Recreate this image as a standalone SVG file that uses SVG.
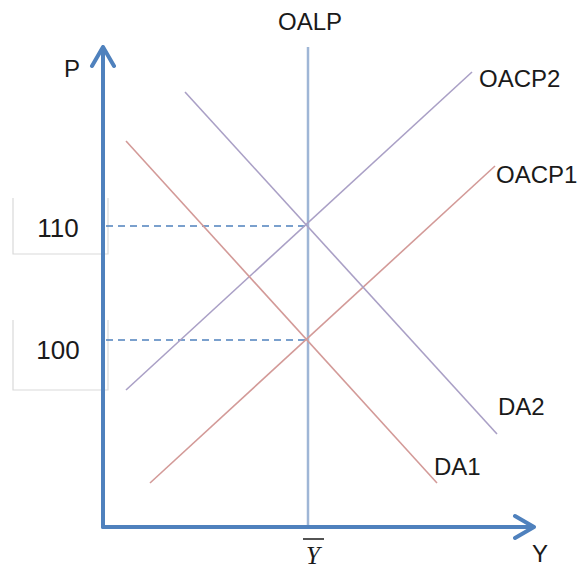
<svg xmlns="http://www.w3.org/2000/svg" width="583" height="571" viewBox="0 0 583 571">
<style>
.lbl{font-family:"Liberation Sans",Arial,sans-serif;font-size:24px;fill:#1a1a1a}
.num{font-family:"Liberation Sans",Arial,sans-serif;font-size:26px;fill:#1a1a1a}
.box{stroke:#d9d9d9;stroke-width:1.2;fill:none}
.axis{stroke:#4f81bd;stroke-width:4;fill:none;stroke-linecap:round;stroke-linejoin:round}
.red{stroke:#d39a98;stroke-width:1.6}
.vio{stroke:#aaa0c6;stroke-width:1.6}
.dash{stroke:#4f81bd;stroke-width:1.6;stroke-dasharray:7,5}
</style>
<rect width="583" height="571" fill="#fff"/>
<g id="box110">
<path class="box" d="M13,198 V254 H108 V198"/>
<text class="num" x="58" y="237" text-anchor="middle">110</text>
</g>
<g id="box100">
<path class="box" d="M13,320 V390 H108 V320"/>
<text class="num" x="58" y="359" text-anchor="middle">100</text>
</g>
<g id="connectors">
<line class="dash" x1="106" y1="226" x2="308" y2="226"/>
<line class="dash" x1="106" y1="340" x2="308" y2="340"/>
<line x1="308" y1="47" x2="308" y2="527" stroke="#9fb6d6" stroke-width="2.5"/>
<line class="vio" x1="126" y1="390" x2="472" y2="72"/>
<line class="red" x1="150" y1="483" x2="495" y2="166"/>
<line class="vio" x1="185" y1="92" x2="497" y2="434"/>
<line class="red" x1="126" y1="141" x2="437" y2="483"/>
</g>
<g id="axes">
<path class="axis" d="M103,527 V47 M92,66 L103,47 L114,66"/>
<path class="axis" d="M103,527 H534 M515,516 L534,527 L515,538"/>
</g>
<g id="labels">
<text class="lbl" x="310" y="30" text-anchor="middle">OALP</text>
<text class="lbl" x="72" y="77" text-anchor="middle">P</text>
<text class="lbl" x="479" y="87">OACP2</text>
<text class="lbl" x="496" y="183">OACP1</text>
<text class="lbl" x="498" y="415">DA2</text>
<text class="lbl" x="434" y="475">DA1</text>
<text class="lbl" x="540" y="562" text-anchor="middle">Y</text>
<line x1="303" y1="539" x2="324" y2="539" stroke="#1a1a1a" stroke-width="1.5"/>
<text x="313" y="564" text-anchor="middle" font-family="Liberation Serif,serif" font-style="italic" font-size="25" fill="#1a1a1a">Y</text>
</g>
</svg>
